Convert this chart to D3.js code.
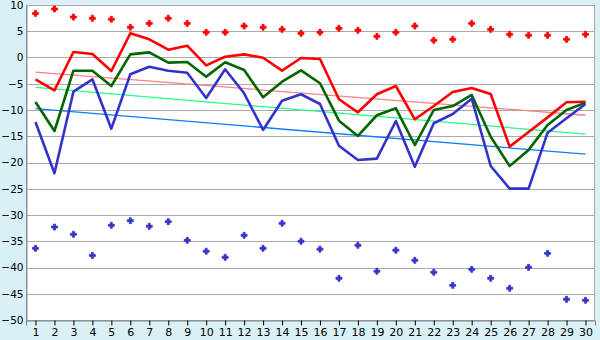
<!DOCTYPE html>
<html lang = "en">
   <head>
      <script src = "https://cdn.jsdelivr.net/npm/d3@7"></script>
      <style>
        body { margin: 0; background: #d9f0f6; }
        svg { display: block; }
        .axis text { font-family: "DejaVu Sans", Verdana, sans-serif; font-size: 11px; fill: #000; }
        .axis.y text { font-size: 10.5px; }
      </style>
    </head>

   <body>
    <div id="chart"></div>
      <script>
        // chart values
        const days = d3.range(1, 31)
        const yTicks = [10, 5, 0, -5, -10, -15, -20, -25, -30, -35, -40, -45, -50]

        const redLine = [-4.15, -6.25, 1.05, 0.67, -2.57, 4.6, 3.46, 1.49, 2.25, -1.5,
                         0.15, 0.6, -0.04, -2.51, -0.1, -0.29, -7.96, -10.44, -7.0, -5.43,
                         -11.77, -9.24, -6.57, -5.81, -6.95, -16.98, -14.2, -11.4, -8.53, -8.42]
        const greenLine = [-8.48, -14.0, -2.51, -2.51, -5.43, 0.6, 0.98, -0.98, -0.86, -3.65,
                           -0.92, -2.38, -7.58, -4.6, -2.44, -4.9, -12.04, -14.95, -11.0, -9.68,
                           -16.67, -10.0, -9.24, -7.14, -15.08, -20.67, -17.6, -12.86, -10.0, -8.6]
        const blueLine = [-12.29, -22.06, -6.51, -4.15, -13.56, -3.2, -1.75, -2.51, -2.9, -7.72,
                          -2.25, -6.82, -13.8, -8.23, -7.0, -8.86, -16.8, -19.52, -19.27, -12.1,
                          -20.8, -12.53, -10.76, -7.84, -20.67, -24.98, -24.98, -14.32, -11.58, -8.86]

        const redDots = [8.4, 9.24, 7.7, 7.46, 7.27, 5.75, 6.5, 7.46, 6.5, 4.8,
                         4.8, 6.0, 5.75, 5.36, 4.6, 4.8, 5.55, 5.17, 4.03, 4.8,
                         6.0, 3.27, 3.46, 6.5, 5.36, 4.41, 4.22, 4.22, 3.46, 4.41]
        const blueDots = [-36.35, -32.3, -33.68, -37.7, -31.97, -31.08, -32.16, -31.27, -34.83, -36.9,
                          -38.06, -33.87, -36.35, -31.58, -35.0, -36.5, -42.06, -35.77, -40.72, -36.7,
                          -38.63, -40.9, -43.4, -40.35, -42.06, -43.96, -39.97, -37.3, -46.06, -46.25]

        // trend lines: value at day 1 and at day 30
        const redTrend = [-2.8, -11.0]
        const greenTrend = [-5.68, -14.6]
        const blueTrend = [-9.75, -18.42]

        const w1 = 600
        const h1 = 340
        const padL = 26, padR = 595, padT = 5, padB = 320

        let svg1 = d3.select('#chart')
                 .append('svg')
                 .attr('width', w1)
                 .attr('height', h1)

        let scaleX = d3.scalePoint()
                       .domain(days)
                       .range([padL, padR])
                       .padding(0.5)

        let scaleY = d3.scaleLinear()
                       .domain([-50, 10])
                       .range([padB, padT])

        // plot area
        svg1.append('rect')
              .attr('x', padL)
              .attr('y', padT)
              .attr('width', padR - padL)
              .attr('height', padB - padT)
              .attr('fill', '#ffffff')

        // horizontal grid
        svg1.append('g')
              .selectAll('line')
              .data(yTicks)
              .enter()
              .append('line')
              .attr('x1', padL)
              .attr('x2', padR)
              .attr('y1', function(d) { return Math.round(scaleY(d)) + 0.5 })
              .attr('y2', function(d) { return Math.round(scaleY(d)) + 0.5 })
              .attr('stroke', '#aaaaaa')
              .attr('stroke-width', 1)

        svg1.append('rect')
              .attr('x', padL + 0.5)
              .attr('y', padT + 0.5)
              .attr('width', padR - padL - 1)
              .attr('height', padB - padT)
              .attr('fill', 'none')
              .attr('stroke', '#a8a8a8')

        const minus = function(v) { return String(v).replace('-', '\u2212') }

        let yAxis = d3.axisLeft(scaleY)
                      .tickValues(yTicks)
                      .tickSize(0)
                      .tickPadding(3)
                      .tickFormat(minus)

        let xAxis = d3.axisBottom(scaleX)
                      .tickSize(5)
                      .tickPadding(3)

        let gy = svg1.append('g')
              .attr('class', 'axis y')
              .attr('transform', 'translate(' + (padL + 0.5) + ',0)')
              .call(yAxis)
        gy.select('.domain').attr('stroke', '#808080')

        let gx = svg1.append('g')
              .attr('class', 'axis x')
              .attr('transform', 'translate(0,' + (padB + 0.5) + ')')
              .call(xAxis)
        gx.select('.domain').attr('stroke', '#808080')
        gx.selectAll('.tick line').attr('stroke', '#000')

        // trend lines
        const trends = [
            { v: redTrend, c: '#ff8080' },
            { v: greenTrend, c: '#22ff88' },
            { v: blueTrend, c: '#0a7cff' }
        ]
        svg1.append('g')
              .selectAll('line')
              .data(trends)
              .enter()
              .append('line')
              .attr('x1', scaleX(1))
              .attr('x2', scaleX(30))
              .attr('y1', function(d) { return scaleY(d.v[0]) })
              .attr('y2', function(d) { return scaleY(d.v[1]) })
              .attr('stroke', function(d) { return d.c })
              .attr('stroke-width', 1.3)

        // main lines
        let line = d3.line()
                     .x(function(d, i) { return scaleX(days[i]) })
                     .y(function(d) { return scaleY(d) })

        const series = [
            { v: redLine, c: '#ff0000' },
            { v: greenLine, c: '#006600' },
            { v: blueLine, c: '#3333cc' }
        ]
        svg1.append('g')
              .selectAll('path')
              .data(series)
              .enter()
              .append('path')
              .attr('d', function(d) { return line(d.v) })
              .attr('fill', 'none')
              .attr('stroke', function(d) { return d.c })
              .attr('stroke-width', 2.6)
              .attr('stroke-linejoin', 'round')

        // markers
        const marker = d3.symbol().type(d3.symbolCross).size(20)
        const dots = [
            { v: redDots, c: '#ff0000' },
            { v: blueDots, c: '#3333cc' }
        ]
        dots.forEach(function(s) {
            svg1.append('g')
                  .selectAll('path')
                  .data(s.v)
                  .enter()
                  .append('path')
                  .attr('d', marker)
                  .attr('transform', function(d, i) {
                      return 'translate(' + scaleX(days[i]) + ',' + scaleY(d) + ')'
                  })
                  .attr('fill', s.c)
                  .attr('stroke', s.c)
                  .attr('stroke-width', 0.8)
                  .attr('stroke-linejoin', 'round')
        })
      </script>
   </body>
</html>
